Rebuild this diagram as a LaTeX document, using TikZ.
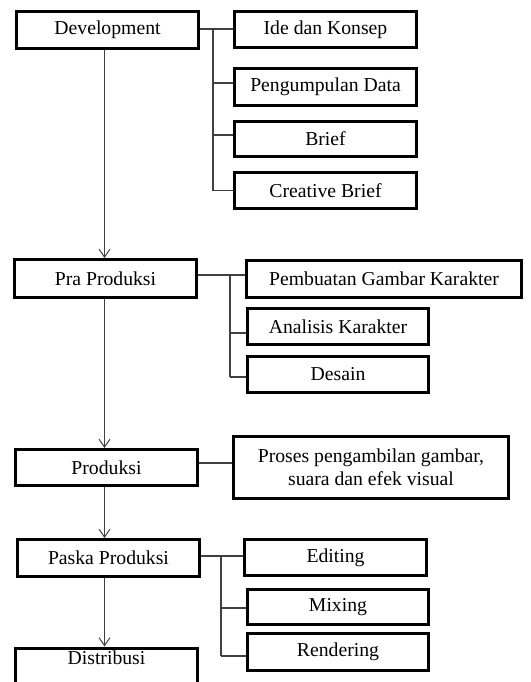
\documentclass[tikz,border=0pt]{standalone}
\usepackage{fontspec}
\setmainfont{Liberation Serif}
\usetikzlibrary{arrows.meta}
\begin{document}
\begin{tikzpicture}[x=1pt,y=-1pt,
  box/.style={draw=black,line width=3pt,minimum width=#1,inner sep=0pt,font=\fontsize{19.7}{23}\selectfont,align=center},
  box/.default=182pt,
  conn/.style={draw=black!75,line width=1.1pt},
  arr/.style={conn,-{Straight Barb[length=8pt,width=11pt,line width=1pt]}}]
\useasboundingbox (0,0) rectangle (530,682);
% main column
\node[box,minimum height=37pt] (dev) at (107.5,30) {Development};
\node[box,minimum height=38pt] (pra) at (105.5,278.5) {Pra Produksi};
\node[box,minimum height=36pt] (prod) at (106.5,467.5) {Produksi};
\node[box,minimum height=37pt] (paska) at (108.5,558) {Paska Produksi};
\node[box,minimum height=37pt,anchor=north] (dist) at (106.5,646.5) {Distribusi\strut\\[12pt]};
% development children
\node[box,minimum height=36pt] (ide) at (325.5,29.5) {Ide dan Konsep};
\node[box,minimum height=37pt] (peng) at (325.5,87) {Pengumpulan Data};
\node[box,minimum height=35pt] (brief) at (325.5,139) {Brief};
\node[box,minimum height=36pt] (cbrief) at (325.5,190.5) {Creative Brief};
% pra produksi children
\node[box=275pt,minimum height=37pt] (pemb) at (384,279) {Pembuatan Gambar Karakter};
\node[box=181pt,minimum height=36pt] (anal) at (338,326.5) {Analisis Karakter};
\node[box=181pt,minimum height=36pt] (desain) at (338,374.5) {Desain};
% produksi child
\node[box=275pt,minimum height=62pt] (proses) at (371,467.5) {Proses pengambilan gambar,\\suara dan efek visual};
% paska children
\node[box=182pt,minimum height=36pt] (edit) at (335.5,557.5) {Editing};
\node[box=181pt,minimum height=35pt] (mix) at (338,607) {Mixing};
\node[box=181pt,minimum height=37pt] (rend) at (338,652) {Rendering};
% spine coordinates
\coordinate (sp) at (104.5,0);
\coordinate (t1) at (213,29);
\coordinate (t2) at (230,275);
\coordinate (t3) at (221,556);
% main arrows
\draw[arr] (dev.south -| sp) -- (pra.north -| sp);
\draw[arr] (pra.south -| sp) -- (prod.north -| sp);
\draw[arr] (prod.south -| sp) -- (paska.north -| sp);
\draw[arr] (paska.south -| sp) -- (dist.north -| sp);
% development tree
\draw[conn] (dev.east |- t1) -- (ide.west |- t1);
\draw[conn] (t1) -- (t1 |- cbrief.west);
\draw[conn] ([yshift=4pt]peng.west -| t1) -- ([yshift=4pt]peng.west);
\draw[conn] ([yshift=4pt]brief.west -| t1) -- ([yshift=4pt]brief.west);
\draw[conn] (cbrief.west -| t1) -- (cbrief.west);
% pra produksi tree
\draw[conn] (pra.east |- t2) -- (pemb.west |- t2);
\draw[conn] (t2) -- ([yshift=-2.5pt]t2 |- desain.west);
\draw[conn] ([yshift=-6.5pt]anal.west -| t2) -- ([yshift=-6.5pt]anal.west);
\draw[conn] ([yshift=-2.5pt]desain.west -| t2) -- ([yshift=-2.5pt]desain.west);
% produksi
\draw[conn] ([yshift=4.5pt]prod.east) -- ([yshift=4.5pt]prod.east -| proses.west);
% paska tree
\draw[conn] (paska.east |- t3) -- (edit.west |- t3);
\draw[conn] (t3) -- ([yshift=-4pt]t3 |- rend.west);
\draw[conn] ([yshift=-1pt]mix.west -| t3) -- ([yshift=-1pt]mix.west);
\draw[conn] ([yshift=-4pt]rend.west -| t3) -- ([yshift=-4pt]rend.west);
\end{tikzpicture}
\end{document}
